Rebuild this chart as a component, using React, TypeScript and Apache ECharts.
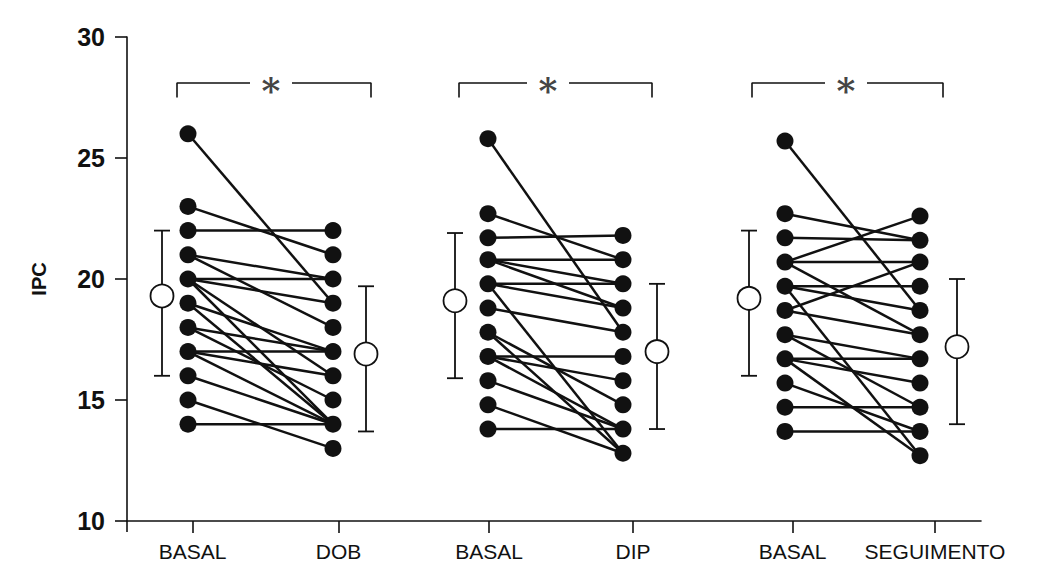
import React, { useEffect, useRef } from "react";
import * as echarts from "echarts";

// ---- axis / categories ----
const yMin = 10;
const yMax = 30;
const yInterval = 5;
const categoryLabels = ["BASAL", "DOB", "BASAL", "DIP", "BASAL", "SEGUIMENTO"];
const categoryTickPos = [65.5, 211.5, 362, 506, 665.6, 808];
const xMax = 854;

// ---- column positions per panel (left = basal, right = after) ----
const dotColumnPos = [
  [61, 206],
  [361, 496],
  [658, 793],
];
const meanColumnPos = [
  [35, 239],
  [328, 530],
  [622, 830],
];

// ---- paired individual values (IPC) ----
const dobBasal = [26, 23, 22, 21, 21, 20, 20, 20, 20, 19, 19, 18, 18, 17, 17, 17, 16, 15, 14];
const dobAfter = [19, 21, 22, 20, 18, 20, 19, 16, 14, 17, 14, 17, 15, 17, 16, 14, 14, 13, 14];

const dipBasal = [25.8, 22.7, 21.7, 20.8, 20.8, 20.8, 19.8, 19.8, 19.8, 18.8, 17.8, 17.8, 16.8, 16.8, 16.8, 15.8, 14.8, 13.8];
const dipAfter = [17.8, 20.8, 21.8, 20.8, 19.8, 18.8, 19.8, 18.8, 12.8, 17.8, 14.8, 12.8, 16.8, 15.8, 13.8, 13.8, 12.8, 13.8];

const segBasal = [25.7, 22.7, 21.7, 20.7, 20.7, 20.7, 19.7, 19.7, 19.7, 18.7, 18.7, 17.7, 17.7, 16.7, 16.7, 16.7, 15.7, 14.7, 13.7];
const segAfter = [18.7, 21.6, 21.6, 22.6, 20.7, 17.7, 19.7, 18.7, 12.7, 20.7, 17.7, 16.7, 14.7, 16.7, 15.7, 12.7, 13.7, 14.7, 13.7];

// ---- group means and error bars ----
const meanBasal = [19.3, 19.1, 19.2];
const meanAfter = [16.9, 17.0, 17.2];
const errBasalLow = [16.0, 15.9, 16.0];
const errBasalHigh = [22.0, 21.9, 22.0];
const errAfterLow = [13.7, 13.8, 14.0];
const errAfterHigh = [19.7, 19.8, 20.0];

// ---- significance brackets ----
const bracketLeft = [50, 332, 625];
const bracketRight = [244, 525, 816];
const asteriskPos = [144, 421, 719];
const bracketTop = 28.1;
const bracketLeg = 27.5;
const bracketGapHalf = 21;
const significanceMark = "*";

const INK = "#111111";

export default function App() {
  const ref = useRef<HTMLDivElement>(null);

  useEffect(() => {
    document.body.style.margin = "0";
    const chart = echarts.init(ref.current!, undefined, { renderer: "svg" });

    const panels = [
      [dobBasal, dobAfter],
      [dipBasal, dipAfter],
      [segBasal, segAfter],
    ];

    const series: any[] = [];

    // paired lines
    panels.forEach(([b, a], p) => {
      const [xl, xr] = dotColumnPos[p];
      b.forEach((v, i) => {
        series.push({
          type: "line",
          data: [
            [xl, v],
            [xr, a[i]],
          ],
          showSymbol: false,
          symbol: "none",
          lineStyle: { color: INK, width: 2.5 },
          z: 2,
          silent: true,
        });
      });
    });

    // dots (unique positions)
    const dotData: number[][] = [];
    panels.forEach(([b, a], p) => {
      const [xl, xr] = dotColumnPos[p];
      Array.from(new Set(b)).forEach((v) => dotData.push([xl, v]));
      Array.from(new Set(a)).forEach((v) => dotData.push([xr, v]));
    });
    series.push({
      type: "scatter",
      data: dotData,
      symbolSize: 17,
      itemStyle: { color: INK, opacity: 1 },
      z: 4,
      silent: true,
    });

    // error bars
    const errData: number[][] = [];
    meanColumnPos.forEach(([xl, xr], p) => {
      errData.push([xl, errBasalLow[p], errBasalHigh[p]]);
      errData.push([xr, errAfterLow[p], errAfterHigh[p]]);
    });
    series.push({
      type: "custom",
      data: errData,
      z: 3,
      silent: true,
      renderItem: (params: any, api: any) => {
        const x = api.value(0);
        const lo = api.coord([x, api.value(1)]);
        const hi = api.coord([x, api.value(2)]);
        const w = 8;
        const style = { stroke: INK, lineWidth: 1.8 };
        return {
          type: "group",
          children: [
            { type: "line", shape: { x1: lo[0], y1: lo[1], x2: hi[0], y2: hi[1] }, style },
            { type: "line", shape: { x1: lo[0] - w, y1: lo[1], x2: lo[0] + w, y2: lo[1] }, style },
            { type: "line", shape: { x1: hi[0] - w, y1: hi[1], x2: hi[0] + w, y2: hi[1] }, style },
          ],
        };
      },
    });

    // mean circles
    const meanData: number[][] = [];
    meanColumnPos.forEach(([xl, xr], p) => {
      meanData.push([xl, meanBasal[p]]);
      meanData.push([xr, meanAfter[p]]);
    });
    series.push({
      type: "scatter",
      data: meanData,
      symbolSize: 23,
      itemStyle: { color: "#ffffff", borderColor: INK, borderWidth: 1.8, opacity: 1 },
      z: 5,
      silent: true,
    });

    // brackets
    bracketLeft.forEach((xl, p) => {
      const xr = bracketRight[p];
      const xa = asteriskPos[p];
      series.push({
        type: "line",
        data: [
          [xl, bracketLeg],
          [xl, bracketTop],
          [xa - bracketGapHalf, bracketTop],
        ],
        showSymbol: false,
        symbol: "none",
        lineStyle: { color: INK, width: 1.6 },
        silent: true,
      });
      series.push({
        type: "line",
        data: [
          [xa + bracketGapHalf, bracketTop],
          [xr, bracketTop],
          [xr, bracketLeg],
        ],
        showSymbol: false,
        symbol: "none",
        lineStyle: { color: INK, width: 1.6 },
        silent: true,
      });
    });
    series.push({
      type: "scatter",
      data: asteriskPos.map((x) => [x, bracketTop]),
      symbolSize: 1,
      itemStyle: { color: "rgba(0,0,0,0)" },
      silent: true,
      label: {
        show: true,
        position: "inside",
        formatter: significanceMark,
        fontFamily: "DejaVu Serif",
        fontWeight: "bold",
        fontSize: 36,
        color: INK,
        offset: [0, 7],
      },
    });

    chart.setOption({
      animation: false,
      backgroundColor: "#ffffff",
      grid: { left: 127, right: 1056 - 127 - xMax, top: 37, bottom: 48 },
      xAxis: {
        type: "value",
        min: 0,
        max: xMax,
        splitLine: { show: false },
        axisLine: { lineStyle: { color: INK, width: 1.6 } },
        axisTick: {
          show: true,
          customValues: categoryTickPos,
          length: 12,
          lineStyle: { color: INK, width: 1.6 },
        },
        axisLabel: {
          customValues: categoryTickPos,
          formatter: (v: number) => {
            const i = categoryTickPos.findIndex((t) => Math.abs(t - v) < 0.01);
            return i >= 0 ? categoryLabels[i] : "";
          },
          margin: 20,
          fontFamily: "Liberation Sans",
          fontSize: 21,
          color: INK,
        },
      },
      yAxis: {
        type: "value",
        min: yMin,
        max: yMax,
        interval: yInterval,
        name: "IPC",
        nameLocation: "middle",
        nameGap: 78,
        nameTextStyle: { fontFamily: "Liberation Sans", fontWeight: "bold", fontSize: 20, color: INK },
        splitLine: { show: false },
        axisLine: { show: true, lineStyle: { color: INK, width: 1.6 } },
        axisTick: { show: true, length: 12, lineStyle: { color: INK, width: 1.6 } },
        axisLabel: {
          margin: 22,
          fontFamily: "Liberation Sans",
          fontWeight: "bold",
          fontSize: 25,
          color: INK,
        },
      },
      graphic: [
        {
          type: "line",
          shape: { x1: 127, y1: 521, x2: 127, y2: 532 },
          style: { stroke: INK, lineWidth: 1.6 },
        },
      ],
      series,
    });

    return () => chart.dispose();
  }, []);

  return <div ref={ref} style={{ width: 1056, height: 569 }} />;
}
